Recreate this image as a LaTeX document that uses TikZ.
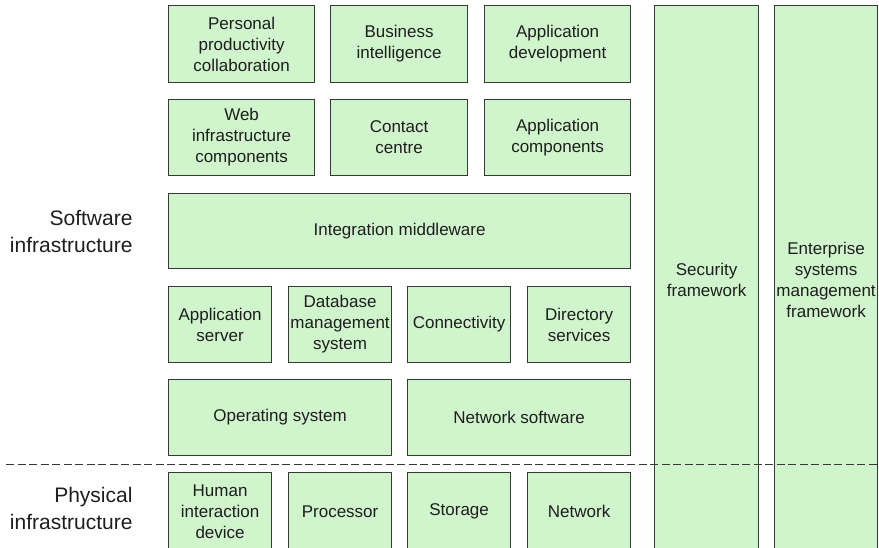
\documentclass[tikz,border=0pt]{standalone}
\usepackage{fontspec}
\setmainfont{Liberation Sans}
\definecolor{boxfill}{HTML}{D0F4CC}
\definecolor{boxline}{HTML}{383838}
\definecolor{txt}{HTML}{1E1E1E}
\begin{document}
\begin{tikzpicture}[x=1pt,y=-1pt,
  box/.style={draw=boxline,fill=boxfill,line width=1.2pt,anchor=north west,inner sep=0pt,
    align=center,text=txt,font=\fontsize{17}{21}\selectfont},
  side/.style={anchor=east,align=right,text=txt,font=\fontsize{21}{27}\selectfont},
  sep/.style={draw=boxline,line width=1pt,dash pattern=on 8pt off 3.5pt}]
\useasboundingbox (0,0) rectangle (879,548);
\clip (0,0) rectangle (879,548);
% row 1
\node[box,minimum width=146pt,minimum height=77pt] (ppc) at (168,5) {Personal\\productivity\\collaboration};
\node[box,minimum width=137pt,minimum height=77pt] (bi) at (330,5) {Business\\intelligence};
\node[box,minimum width=146pt,minimum height=77pt] (ad) at (484,5) {Application\\development};
% row 2
\node[box,minimum width=146pt,minimum height=76pt] (wic) at (168,99) {Web\\infrastructure\\components};
\node[box,minimum width=137pt,minimum height=76pt] (cc) at (330,99) {Contact\\centre};
\node[box,minimum width=146pt,minimum height=76pt] (ac) at (484,99) {Application\\components};
% row 3
\node[box,minimum width=462pt,minimum height=75pt] (im) at (168,193) {Integration middleware};
% row 4
\node[box,minimum width=103pt,minimum height=76pt] (as) at (168,286) {Application\\server};
\node[box,minimum width=103pt,minimum height=76pt] (dbms) at (288,286) {Database\\management\\system};
\node[box,minimum width=103pt,minimum height=76pt] (con) at (407,286) {Connectivity};
\node[box,minimum width=103pt,minimum height=76pt] (ds) at (527,286) {Directory\\services};
% row 5
\node[box,minimum width=223pt,minimum height=76pt] (os) at (168,379) {Operating system};
\node[box,minimum width=223pt,minimum height=76pt] (ns) at (407,379) {Network software};
% row 6
\node[box,minimum width=103pt,minimum height=78pt] (hid) at (168,472) {Human\\interaction\\device};
\node[box,minimum width=103pt,minimum height=78pt] (proc) at (288,472) {Processor};
\node[box,minimum width=103pt,minimum height=78pt] (stor) at (407,472) {Storage};
\node[box,minimum width=103pt,minimum height=78pt] (net) at (527,472) {Network};
% columns
\node[box,minimum width=104pt,minimum height=548pt] (sec) at (654,5) {Security\\framework};
\node[box,minimum width=103pt,minimum height=548pt] (esm) at (774,5) {Enterprise\\systems\\management\\framework};
% side labels
\node[side] (swl) at (136,232) {Software\\infrastructure};
\node[side] (phl) at (136,508) {Physical\\infrastructure};
% separator
\coordinate (sepL) at (6,464);
\coordinate (sepR) at (879,464);
\draw[sep] (sepL) -- (sepR);
\end{tikzpicture}
\end{document}
